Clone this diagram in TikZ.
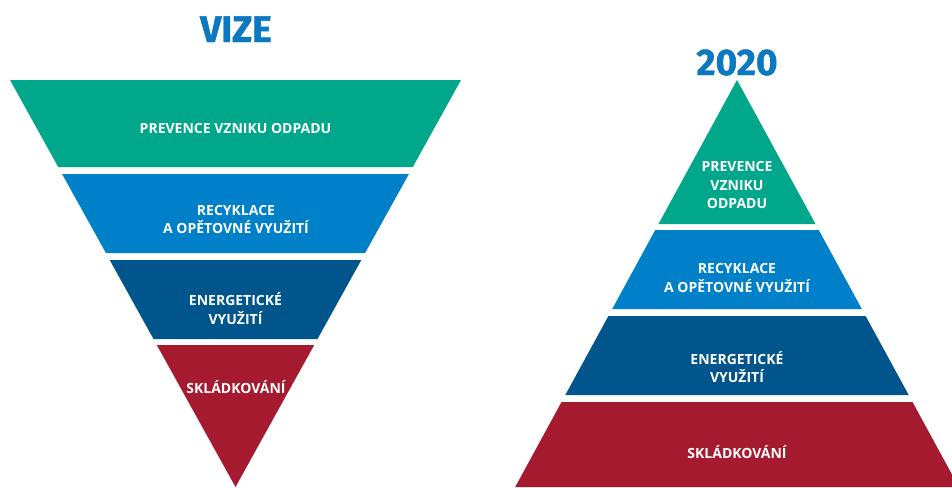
\documentclass[tikz,border=0pt]{standalone}
\usepackage{fontspec}
\setmainfont{Open Sans}
\newfontfamily\ttlfont{Fira Sans}[UprightFont=* Bold, FakeBold=1.2]
\definecolor{cgreen}{RGB}{0,167,138}
\definecolor{cblue}{RGB}{0,128,200}
\definecolor{cdark}{RGB}{0,85,140}
\definecolor{cred}{RGB}{166,26,48}
\definecolor{ctitle}{RGB}{12,120,192}
\begin{document}
\begin{tikzpicture}[x=1pt,y=-1pt,
  lbl/.style={text=white, font=\bfseries\fontsize{14}{18.5}\selectfont, align=center, inner sep=0pt},
  ttl/.style={text=ctitle, font=\ttlfont\fontsize{37}{40}\selectfont, inner sep=0pt, anchor=base}]
\useasboundingbox (0,0) rectangle (952,487);
\clip (0,0) rectangle (952,487);
% left inverted pyramid
\fill[cgreen] (10,80) -- (461,80) -- (412.8,167) -- (58.2,167) -- cycle;
\fill[cblue] (62.1,174) -- (408.9,174) -- (365.1,253) -- (105.9,253) -- cycle;
\fill[cdark] (109.7,260) -- (361.3,260) -- (317.5,339) -- (153.5,339) -- cycle;
\fill[cred] (156.8,345) -- (314.2,345) -- (235.5,487) -- cycle;
% right pyramid
\fill[cgreen] (737,80) -- (815.5,224) -- (658.5,224) -- cycle;
\fill[cblue] (655.25,230) -- (818.75,230) -- (861.8,309) -- (612.2,309) -- cycle;
\fill[cdark] (608.4,316) -- (865.6,316) -- (908.7,395) -- (565.3,395) -- cycle;
\fill[cred] (561.5,402) -- (912.5,402) -- (958.8,487) -- (515.2,487) -- cycle;
% titles
\node[ttl] (vize) at (236,42) {VIZE};
\node[ttl] (rok) at (737,75) {2020};
% left labels
\node[lbl, anchor=base] (l1) at (235.5,133) {PREVENCE VZNIKU ODPADU};
\node[lbl] (l2) at (236,219.5) {RECYKLACE\\A OPĚTOVNÉ VYUŽITÍ};
\node[lbl] (l3) at (235.5,308.5) {ENERGETICKÉ\\VYUŽITÍ};
\node[lbl, anchor=base] (l4) at (236,393) {SKLÁDKOVÁNÍ};
% right labels
\node[lbl] (r1) at (737,185) {PREVENCE\\VZNIKU\\ODPADU};
\node[lbl] (r2) at (737,278) {RECYKLACE\\A OPĚTOVNÉ VYUŽITÍ};
\node[lbl] (r3) at (737,367) {ENERGETICKÉ\\VYUŽITÍ};
\node[lbl, anchor=base] (r4) at (737,458) {SKLÁDKOVÁNÍ};
\end{tikzpicture}
\end{document}
